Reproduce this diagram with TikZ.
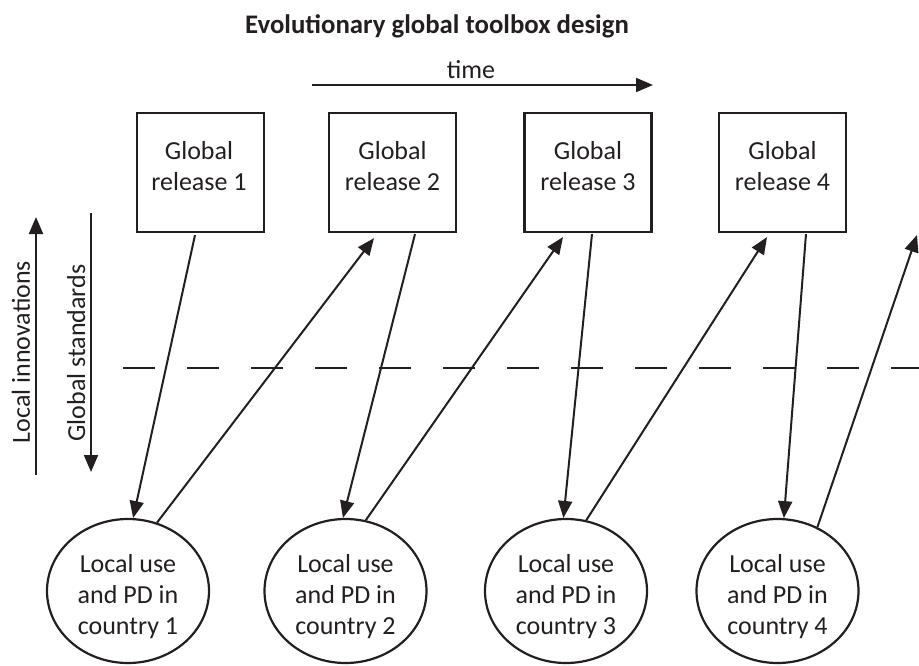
\documentclass[tikz,border=0pt]{standalone}
\usepackage{fontspec}
\setmainfont{Carlito}
\usetikzlibrary{arrows.meta,shapes.geometric}
\definecolor{ink}{RGB}{35,31,32}
\begin{document}
\begin{tikzpicture}[x=1pt,y=-1pt,
  every node/.style={font=\fontsize{26}{31}\selectfont, text=ink},
  relbox/.style={draw=ink, line width=2.2pt, minimum width=127pt, minimum height=119pt, inner sep=0pt},
  usecirc/.style={ellipse, draw=ink, line width=2.2pt, minimum width=162pt, minimum height=144pt, inner sep=0pt},
  txt/.style={align=center, inner sep=0pt},
  conn/.style={draw=ink, line width=2pt, -{Triangle[length=17pt,width=14pt]}},
  plainline/.style={draw=ink, line width=2pt},
]
\useasboundingbox (0,0) rectangle (919,665);

% title and time
\node[font=\bfseries\fontsize{26.8}{31}\selectfont, anchor=base, inner sep=0pt] (title) at (437,33) {Evolutionary global toolbox design};
\coordinate (t0) at (312,85);
\coordinate (t1) at (653,85);
\draw[conn] (t0) -- (t1);
\node[anchor=base, inner sep=0pt] (timelbl) at (471,78) {time};

% side arrows
\coordinate (li0) at (36,475);
\coordinate (li1) at (36,217);
\draw[conn] (li0) -- (li1);
\node[anchor=base, rotate=90, inner sep=0pt] (lilbl) at (30,352) {Local innovations};
\coordinate (gs0) at (91,213);
\coordinate (gs1) at (91,472);
\draw[conn] (gs0) -- (gs1);
\node[anchor=base, rotate=90, inner sep=0pt] (gslbl) at (85,353) {Global standards};

% dashed line
\coordinate (d0) at (123,368);
\coordinate (d1) at (919,368);
\draw[plainline, dash pattern=on 32pt off 32pt] (d0) -- (d1);

% boxes
\node[relbox] (g1) at (200.5,172.5) {};
\node[relbox] (g2) at (392.5,172.5) {};
\node[relbox] (g3) at (588,172.5) {};
\node[relbox] (g4) at (782.5,172.5) {};
\node[txt] (g1t) at (199,166.5) {Global\\release 1};
\node[txt] (g2t) at (392.5,166.5) {Global\\release 2};
\node[txt] (g3t) at (588,166.5) {Global\\release 3};
\node[txt] (g4t) at (782.5,166.5) {Global\\release 4};

% ellipses
\node[usecirc] (c1) at (128,591) {};
\node[usecirc] (c2) at (345.5,591) {};
\node[usecirc] (c3) at (566,591) {};
\node[usecirc] (c4) at (777.5,591) {};
\node[txt] (c1t) at (128,597) {Local use\\and PD in\\country 1};
\node[txt] (c2t) at (345.5,597) {Local use\\and PD in\\country 2};
\node[txt] (c3t) at (566,597) {Local use\\and PD in\\country 3};
\node[txt] (c4t) at (777.5,597) {Local use\\and PD in\\country 4};

% connectors
\coordinate (e5) at (917,235);
\draw[conn] ([xshift=-5.5pt,yshift=-2pt]g1.south) -- (c1.86);
\draw[conn] (c1.67) -- ([xshift=-18.5pt,yshift=-5pt]g2.south);
\draw[conn] ([xshift=22.5pt,yshift=-1pt]g2.south) -- (c2.92);
\draw[conn] (c2.74) -- ([xshift=-25pt,yshift=-4pt]g3.south);
\draw[conn] ([xshift=4pt,yshift=-1pt]g3.south) -- (c3.92);
\draw[conn] (c3.74) -- ([xshift=-15.5pt,yshift=-4pt]g4.south);
\draw[conn] ([xshift=23.5pt,yshift=-1pt]g4.south) -- (c4.85);
\draw[conn] (c4.58) -- (e5);
\end{tikzpicture}
\end{document}
